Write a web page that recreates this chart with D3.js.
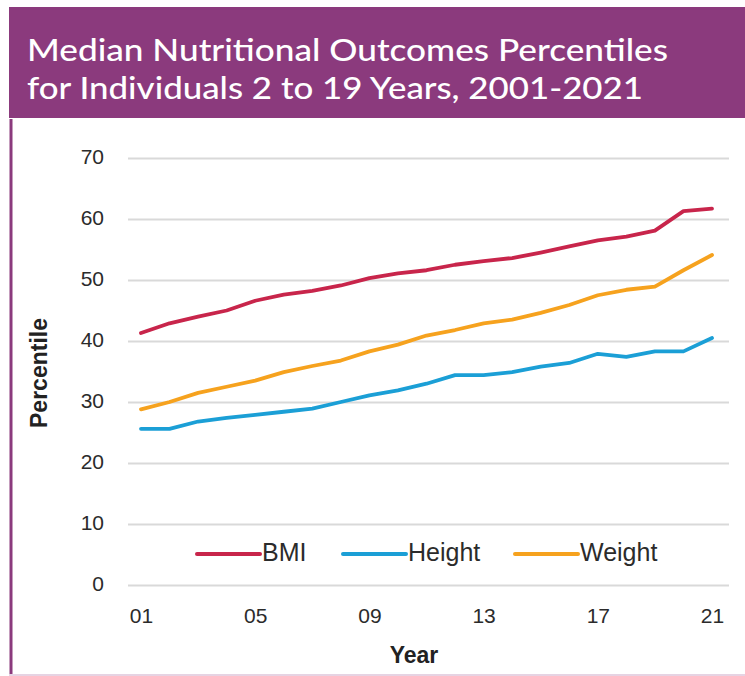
<!DOCTYPE html>
<html lang="en">

<head>
    <meta charset="UTF-8">
    <title>Median Nutritional Outcomes Percentiles</title>
    <script src="https://cdn.jsdelivr.net/npm/d3@7"></script>
    <style>
        body {
            margin: 0;
            padding: 0;
            overflow: hidden;
            background: #fff;
        }

        svg {
            display: block;
        }
    </style>
</head>

<body>
    <svg id="chart" width="745" height="676"></svg>

    <script>
        // data
        var years = d3.range(2001, 2022);
        var bmi = [41.3, 42.9, 44.0, 45.0, 46.6, 47.6, 48.2, 49.1, 50.3, 51.1, 51.6,
            52.5, 53.1, 53.6, 54.5, 55.5, 56.5, 57.1, 58.1, 61.3, 61.7];
        var height = [25.6, 25.6, 26.8, 27.4, 27.9, 28.4, 28.9, 30.0, 31.1, 31.9, 33.0,
            34.4, 34.4, 34.9, 35.8, 36.4, 37.9, 37.4, 38.3, 38.3, 40.5];
        var weight = [28.8, 30.0, 31.5, 32.5, 33.5, 34.9, 35.9, 36.8, 38.3, 39.4, 40.9,
            41.8, 42.9, 43.5, 44.6, 45.9, 47.5, 48.4, 48.9, 51.6, 54.1];
        var seriesNames = ["BMI", "Height", "Weight"];
        var seriesColors = ["#c8254b", "#1b9fd6", "#f6a21e"];
        var yTicks = [0, 10, 20, 30, 40, 50, 60, 70];
        var xTicks = [2001, 2005, 2009, 2013, 2017, 2021];

        var svg = d3.select("#chart");
        var purple = "#8b3a7d";

        // frame + header
        svg.append("rect").attr("x", 9).attr("y", 7).attr("width", 740).attr("height", 111)
            .attr("fill", purple);
        svg.append("line").attr("x1", 11).attr("x2", 11).attr("y1", 119).attr("y2", 675)
            .attr("stroke", purple).attr("stroke-width", 3);
        svg.append("line").attr("x1", 9).attr("x2", 745).attr("y1", 675).attr("y2", 675)
            .attr("stroke", "#e6d3e3").attr("stroke-width", 2);

        var title = ["Median Nutritional Outcomes Percentiles", "for Individuals 2 to 19 Years, 2001-2021"];
        var titleLen = [641, 616];
        svg.selectAll("text.title").data(title).enter().append("text")
            .attr("class", "title")
            .attr("x", 27)
            .attr("y", (d, i) => 61 + i * 38)
            .attr("fill", "#fff")
            .attr("font-family", "Lato, 'Open Sans', sans-serif")
            .attr("font-weight", 500)
            .attr("font-size", 31)
            .attr("textLength", (d, i) => titleLen[i])
            .attr("lengthAdjust", "spacingAndGlyphs")
            .text(d => d);

        var x = d3.scaleLinear().domain([2001, 2021]).range([141, 712]);
        var y = d3.scaleLinear().domain([0, 70]).range([585, 158]);
        var tickFont = "'Liberation Sans', Arial, sans-serif";

        // y axis with gridlines
        var yAxis = svg.append("g")
            .attr("transform", "translate(128,0)")
            .call(d3.axisLeft(y).tickValues(yTicks).tickSize(-601).tickPadding(24));
        yAxis.select(".domain").remove();
        yAxis.selectAll(".tick line").attr("stroke", "#d9d9d9").attr("stroke-width", 2);
        yAxis.selectAll(".tick text")
            .attr("font-family", tickFont).attr("font-size", 21).attr("fill", "#2b2b2b")
            .attr("dy", "0.28em");

        // x axis
        var xAxis = svg.append("g")
            .attr("transform", "translate(0,585)")
            .call(d3.axisBottom(x).tickValues(xTicks).tickSize(0).tickPadding(23)
                .tickFormat(d => d3.format("02d")(d % 100)));
        xAxis.select(".domain").remove();
        xAxis.selectAll(".tick text")
            .attr("font-family", tickFont).attr("font-size", 21).attr("fill", "#2b2b2b");

        // axis titles
        svg.append("text")
            .attr("transform", "translate(47,373) rotate(-90)")
            .attr("text-anchor", "middle")
            .attr("font-family", "'Liberation Sans', Arial, sans-serif")
            .attr("font-weight", "bold")
            .attr("font-size", 23)
            .attr("textLength", 110)
            .attr("lengthAdjust", "spacingAndGlyphs")
            .attr("fill", "#222")
            .text("Percentile");
        svg.append("text")
            .attr("x", 414).attr("y", 663)
            .attr("text-anchor", "middle")
            .attr("font-family", "'Liberation Sans', Arial, sans-serif")
            .attr("font-weight", "bold")
            .attr("font-size", 23)
            .attr("fill", "#222")
            .text("Year");

        // lines
        var allSeries = [bmi, height, weight];
        var line = d3.line()
            .x((d, i) => x(years[i]))
            .y(d => y(d));

        allSeries.forEach((vals, k) => {
            svg.append("path")
                .attr("d", line(vals))
                .attr("fill", "none")
                .attr("stroke", seriesColors[k])
                .attr("stroke-width", 3.8)
                .attr("stroke-linejoin", "round")
                .attr("stroke-linecap", "round");
        });

        // legend
        var legendX = [197, 343, 515];
        var legend = svg.selectAll("g.legend").data(seriesNames).enter().append("g")
            .attr("class", "legend")
            .attr("transform", (d, i) => "translate(" + legendX[i] + ",552)");
        legend.append("line")
            .attr("x1", 0).attr("x2", 63)
            .attr("y1", 2).attr("y2", 2)
            .attr("stroke", (d, i) => seriesColors[i])
            .attr("stroke-width", 4)
            .attr("stroke-linecap", "round");
        legend.append("text")
            .attr("x", 65).attr("dy", "0.35em")
            .attr("font-family", tickFont).attr("font-size", 25).attr("fill", "#2b2b2b")
            .text(d => d);
    </script>
</body>

</html>
